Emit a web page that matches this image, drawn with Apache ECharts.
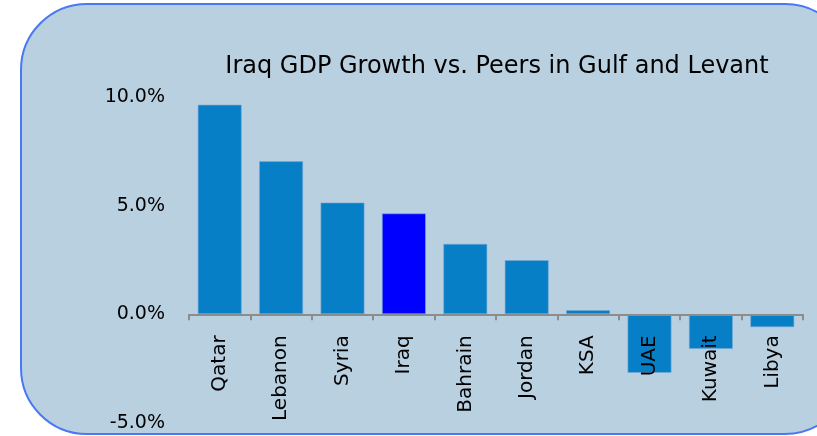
<!DOCTYPE html>
<html>
<head>
<meta charset="utf-8">
<script src="https://cdn.jsdelivr.net/npm/echarts@6/dist/echarts.min.js"></script>
<style>
  html, body { margin: 0; padding: 0; background: #ffffff; }
  #chart { width: 817px; height: 436px; }
</style>
</head>
<body>
<div id="chart"></div>
<script>
const countries = ["Qatar", "Lebanon", "Syria", "Iraq", "Bahrain", "Jordan", "KSA", "UAE", "Kuwait", "Libya"];
const growth = [9.65, 7.05, 5.15, 4.65, 3.25, 2.5, 0.2, -2.7, -1.6, -0.6];
const highlight = "Iraq";
const yTicks = [-5, 0, 5, 10];

const chart = echarts.init(document.getElementById("chart"));
const font = "DejaVu Sans";

chart.setOption({
  animation: false,
  graphic: [
    {
      type: "rect",
      z: -10,
      shape: { x: 21, y: 4, width: 830, height: 430, r: 66 },
      style: { fill: "#b9d0e1", stroke: "#4a78f5", lineWidth: 2 }
    }
  ],
  title: {
    text: "Iraq GDP Growth vs. Peers in Gulf and Levant",
    left: 492,
    top: 50,
    textAlign: "center",
    textStyle: { fontFamily: font, fontWeight: "normal", fontSize: 24, color: "#000" }
  },
  grid: { left: 189, right: 14, top: 97, bottom: 13, outerBoundsMode: "none" },
  xAxis: {
    type: "category",
    data: countries,
    axisLine: { onZero: false, lineStyle: { color: "#8c8c8c", width: 2 } },
    axisTick: { show: true, length: 6, lineStyle: { color: "#8c8c8c", width: 2 } },
    axisLabel: {
      interval: 0,
      rotate: 90,
      margin: 21,
      fontFamily: font,
      fontSize: 20,
      color: "#000"
    },
    z: 5
  },
  yAxis: {
    type: "value",
    min: yTicks[0],
    max: yTicks[yTicks.length - 1],
    interval: 5,
    axisLine: { show: false },
    axisTick: { show: false },
    splitLine: { show: false },
    axisLabel: {
      margin: 24,
      fontFamily: font,
      fontSize: 19,
      color: "#000",
      formatter: (v) => v.toFixed(1) + "%"
    }
  },
  series: [
    {
      type: "bar",
      barWidth: "72%",
      data: growth.map((v, i) => ({
        value: v,
        itemStyle: { color: countries[i] === highlight ? "#0000ff" : "#067fc7" }
      })),
      itemStyle: { borderColor: "rgba(120,170,215,0.6)", borderWidth: 1 },
      z: 2
    }
  ]
});

// move the category axis up to the zero line (labels follow it)
const zeroY = chart.convertToPixel({ yAxisIndex: 0 }, 0);
const bottomY = chart.convertToPixel({ yAxisIndex: 0 }, yTicks[0]);
chart.setOption({ xAxis: { offset: zeroY - bottomY } });
</script>
</body>
</html>
